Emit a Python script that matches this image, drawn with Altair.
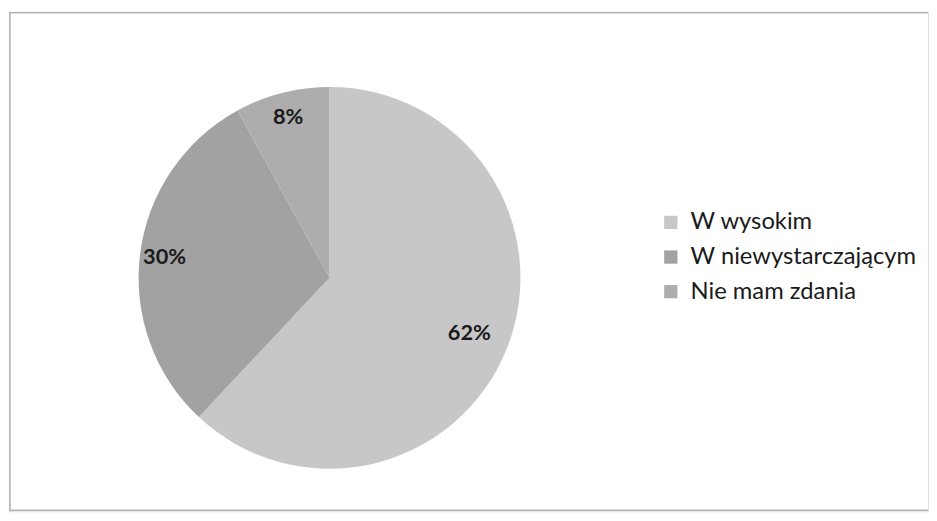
import altair as alt
import pandas as pd

categories = ["W wysokim", "W niewystarczającym", "Nie mam zdania"]
values = [62, 30, 8]
labels = ["62%", "30%", "8%"]
colors = ["#c7c7c7", "#a2a2a2", "#adadad"]

df = pd.DataFrame({
    "cat": categories,
    "val": values,
    "label": labels,
    "idx": list(range(len(categories))),
})

FONT = "Lato"
W, H = 929, 505
CX, CY = 324, 269
FRAME = "#b4b4b4"

base = alt.Chart(df).encode(
    theta=alt.Theta("val:Q", stack=True),
    order=alt.Order("idx:Q"),
)

arc = base.mark_arc(outerRadius=193).encode(
    x=alt.value(CX),
    y=alt.value(CY),
    color=alt.Color(
        "cat:N",
        scale=alt.Scale(domain=categories, range=colors),
        sort=categories,
        legend=alt.Legend(
            title=None,
            orient="none",
            legendX=657,
            legendY=201,
            symbolType="square",
            symbolSize=180,
            symbolStrokeWidth=0,
            labelFont=FONT,
            labelFontSize=24,
            labelColor="#1a1a1a",
            labelLimit=400,
            rowPadding=11,
            labelOffset=8,
        ),
    ),
)

text = base.mark_text(
    radius=alt.expr("datum.val > 50 ? 152 : 168"),
    font=FONT, fontSize=22, fontWeight="bold", color="#1a1a1a",
).encode(
    x=alt.value(CX),
    y=alt.value(CY),
    text="label:N",
)

frame_src = alt.Chart(pd.DataFrame({"k": [0]}))
top = frame_src.mark_rule(color=FRAME, strokeWidth=1.5).encode(
    x=alt.value(0), x2=alt.value(W), y=alt.value(1)
)
bottom = frame_src.mark_rule(color=FRAME, strokeWidth=1.5).encode(
    x=alt.value(0), x2=alt.value(W), y=alt.value(H - 1)
)
left = frame_src.mark_rule(color=FRAME, strokeWidth=1.5).encode(
    x=alt.value(1), y=alt.value(0), y2=alt.value(H)
)

chart = (
    alt.layer(arc, text, top, bottom, left)
    .properties(width=W, height=H, padding=0)
    .configure_view(stroke=None)
    .configure(background="white")
)

chart.save("out.html", embed_options={"renderer": "svg", "actions": False})
